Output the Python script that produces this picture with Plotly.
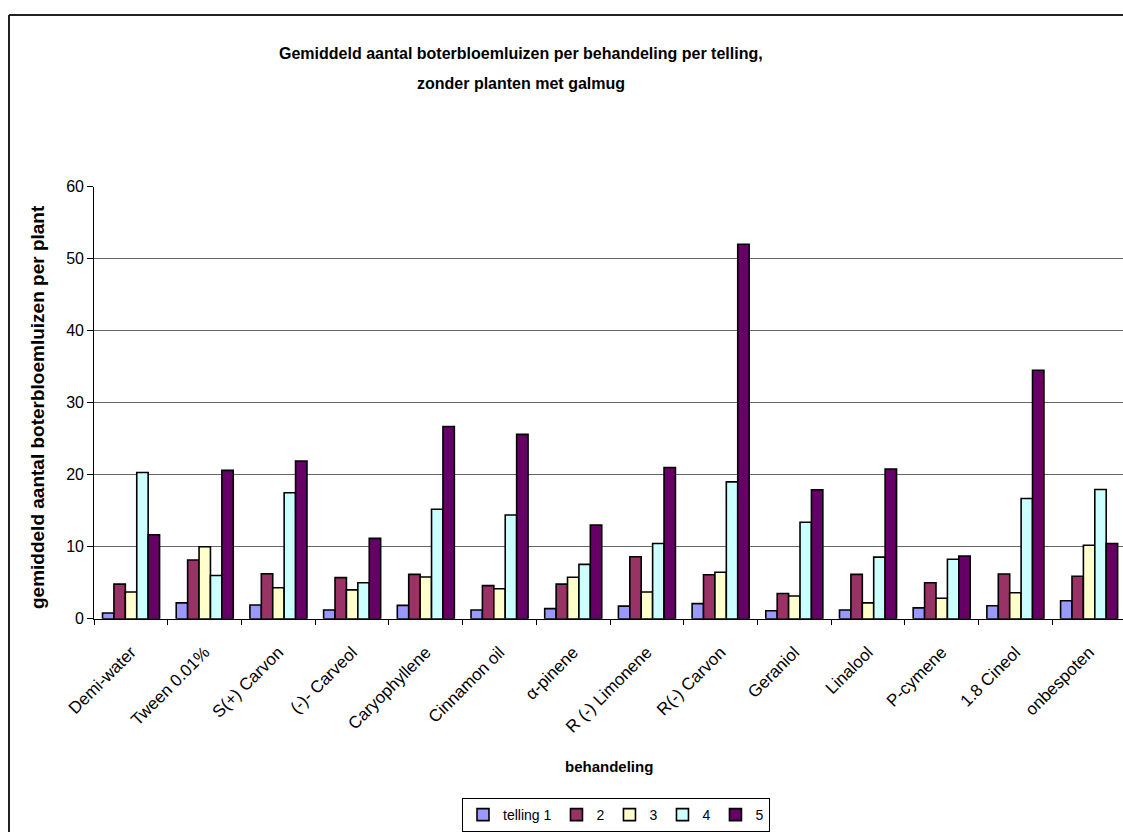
import plotly.graph_objects as go

categories = ["Demi-water", "Tween 0.01%", "S(+) Carvon", "(-)- Carveol", "Caryophyllene",
              "Cinnamon oil", "α-pinene", "R (-) Limonene", "R(-) Carvon", "Geraniol",
              "Linalool", "P-cymene", "1.8 Cineol", "onbespoten"]

series_names = ["telling 1", "2", "3", "4", "5"]
telling1 = [0.8, 2.2, 1.9, 1.2, 1.85, 1.2, 1.4, 1.75, 2.1, 1.1, 1.2, 1.5, 1.8, 2.5]
telling2 = [4.8, 8.15, 6.25, 5.7, 6.15, 4.6, 4.8, 8.6, 6.1, 3.5, 6.15, 5.0, 6.2, 5.9]
telling3 = [3.7, 10.0, 4.3, 4.0, 5.8, 4.15, 5.75, 3.7, 6.45, 3.15, 2.2, 2.85, 3.6, 10.2]
telling4 = [20.3, 6.0, 17.5, 5.0, 15.2, 14.4, 7.55, 10.45, 19.0, 13.4, 8.55, 8.25, 16.7, 17.95]
telling5 = [11.65, 20.6, 21.9, 11.15, 26.7, 25.6, 13.0, 21.0, 52.0, 17.9, 20.8, 8.7, 34.5, 10.45]
series_values = [telling1, telling2, telling3, telling4, telling5]
colors = ["#9999FF", "#993366", "#FFFFCC", "#CCFFFF", "#660066"]

W, H = 1123, 832
FONT = "Liberation Sans, Arial, sans-serif"

def px_x(p):
    return p / W

def px_y(p):
    return 1 - p / H

fig = go.Figure()
for name, vals, col in zip(series_names, series_values, colors):
    fig.add_trace(go.Bar(
        x=categories, y=vals, name=name,
        marker=dict(color=col, line=dict(color="black", width=1.6)),
    ))

fig.update_layout(
    width=W, height=H, autosize=False,
    margin=dict(l=0, r=0, t=0, b=0),
    paper_bgcolor="white", plot_bgcolor="white",
    barmode="group", bargap=0.226, bargroupgap=0,
    font=dict(family=FONT, color="black"),
    showlegend=True,
    legend=dict(orientation="h", x=px_x(616), xanchor="center", y=px_y(798), yanchor="top",
                bordercolor="black", borderwidth=1, font=dict(size=14, family=FONT),
                itemwidth=30, tracegroupgap=0, bgcolor="white"),
    xaxis=dict(domain=[px_x(94.2), 1], range=[-0.5, 13.46], automargin=False,
               showline=True, linecolor="black", linewidth=1,
               ticks="outside", tickson="boundaries", ticklen=5, tickcolor="black",
               tickangle=-45, tickfont=dict(size=17, family=FONT), ticklabelstandoff=16,
               showgrid=False, fixedrange=True),
    yaxis=dict(domain=[px_y(618.7), px_y(186.7)], range=[0, 60], dtick=10, automargin=False,
               showline=True, linecolor="black", linewidth=1,
               ticks="outside", ticklen=6, tickcolor="black",
               tickfont=dict(size=16, family=FONT),
               showgrid=True, gridcolor="#666666", gridwidth=1, zeroline=False),
    annotations=[
        dict(text="<b>Gemiddeld aantal boterbloemluizen per behandeling per telling,</b>",
             x=px_x(521), y=px_y(53), xref="paper", yref="paper", showarrow=False,
             xanchor="center", yanchor="middle", font=dict(size=16, family=FONT)),
        dict(text="<b>zonder planten met galmug</b>",
             x=px_x(521), y=px_y(83), xref="paper", yref="paper", showarrow=False,
             xanchor="center", yanchor="middle", font=dict(size=16, family=FONT)),
        dict(text="<b>gemiddeld aantal boterbloemluizen per plant</b>", textangle=-90,
             x=px_x(37), y=px_y(407), xref="paper", yref="paper", showarrow=False,
             xanchor="center", yanchor="middle", font=dict(size=19, family=FONT)),
        dict(text="<b>behandeling</b>",
             x=px_x(609), y=px_y(766), xref="paper", yref="paper", showarrow=False,
             xanchor="center", yanchor="middle", font=dict(size=15, family=FONT)),
    ],
    shapes=[
        dict(type="line", xref="paper", yref="paper", x0=px_x(9), x1=px_x(9),
             y0=px_y(15), y1=-0.01, line=dict(color="#222222", width=2)),
        dict(type="line", xref="paper", yref="paper", x0=px_x(9), x1=1.01,
             y0=px_y(15), y1=px_y(15), line=dict(color="#222222", width=2)),
    ],
)

fig.write_html("out.html")
